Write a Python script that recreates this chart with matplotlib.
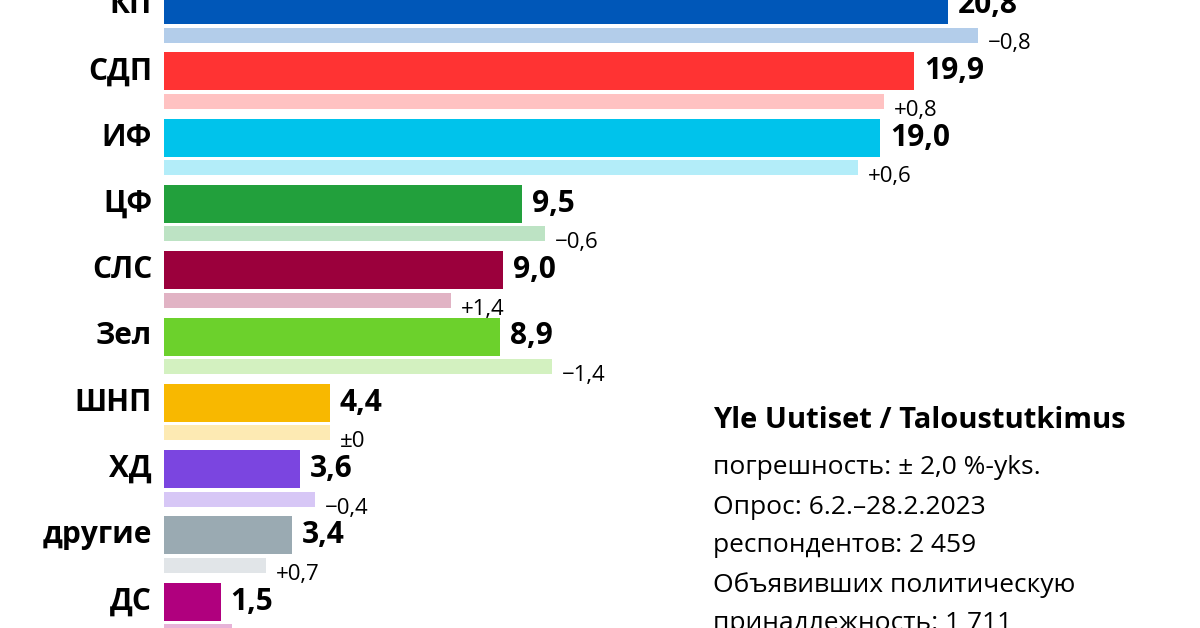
import matplotlib
matplotlib.use("Agg")
import matplotlib.pyplot as plt
from matplotlib.colors import to_rgb

parties = ["КП", "СДП", "ИФ", "ЦФ", "СЛС", "Зел", "ШНП", "ХД", "другие", "ДС"]
current = [20.8, 19.9, 19.0, 9.5, 9.0, 8.9, 4.4, 3.6, 3.4, 1.5]
change = [-0.8, 0.8, 0.6, -0.6, 1.4, -1.4, 0.0, -0.4, 0.7, -0.3]
colors = ["#0057b8", "#ff3333", "#00c3eb", "#22a03c", "#9b003c", "#6cd12c",
          "#f8b800", "#7b45e0", "#9aaab2", "#b0007e"]
previous = [c - d for c, d in zip(current, change)]

def tint(c, f=0.7):
    r, g, b = to_rgb(c)
    return (r + (1 - r) * f, g + (1 - g) * f, b + (1 - b) * f)

def fmt(v):
    return f"{v:.1f}".replace(".", ",")

def fmt_change(d):
    if abs(d) < 1e-9:
        return "±0"
    s = "+" if d > 0 else "−"
    return s + fmt(abs(d))

fig = plt.figure(figsize=(12, 6.28), dpi=100)
ax = fig.add_axes([164 / 1200, 0, 1036 / 1200, 1])
pxx = 37.7
pxy = 66.3
ax.set_xlim(0, 1036 / pxx)
ax.set_ylim((628 - 5) / pxy, -5 / pxy)
ax.axis("off")
font = "Open Sans"

for i, (p, c, d, pr, col) in enumerate(zip(parties, current, change, previous, colors)):
    ax.barh(i, c, height=38 / pxy, color=col, left=0)
    ly = i + 30 / pxy
    ax.barh(ly, pr, height=15 / pxy, color=tint(col), left=0)
    ax.text(-12 / pxx, i, p, ha="right", va="center", fontsize=21.5,
            fontweight="bold", family=font)
    ax.text(c + 10 / pxx, i, fmt(c), ha="left", va="center", fontsize=21.5,
            fontweight="bold", family=font)
    ax.text(pr + 10 / pxx, ly + 9 / pxy, fmt_change(d), ha="left", va="center",
            fontsize=16, family=font)

fig.text(713 / 1200, 1 - 420 / 628, "Yle Uutiset / Taloustutkimus", fontsize=21,
         fontweight="bold", family=font, va="center")
lines = ["погрешность: ± 2,0 %-yks.", "Опрос: 6.2.–28.2.2023", "респондентов: 2 459",
         "Объявивших политическую", "принадлежность: 1 711"]
for k, t in enumerate(lines):
    fig.text(713 / 1200, 1 - (468 + 39 * k) / 628, t, fontsize=19, family=font, va="center")

fig.savefig("out.png", dpi=100, facecolor="white")
